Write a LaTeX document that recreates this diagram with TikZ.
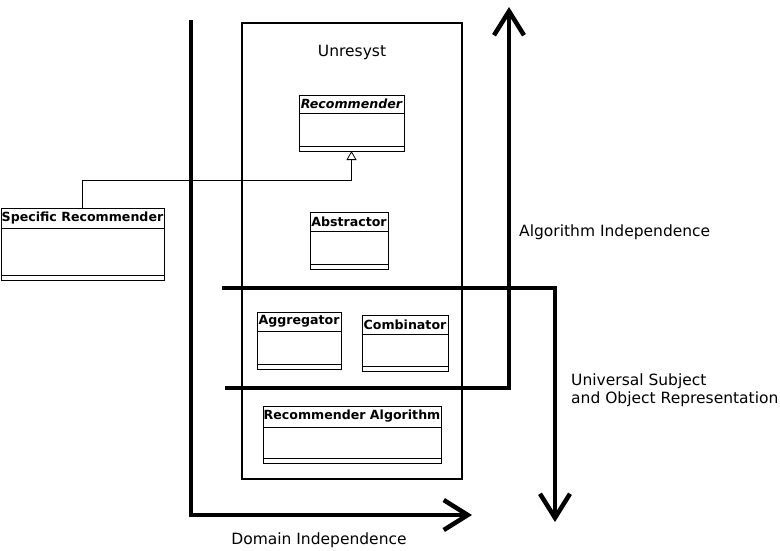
\documentclass[tikz,border=0pt]{standalone}
\usepackage{fontspec}
\setmainfont{DejaVu Sans}
\usetikzlibrary{arrows.meta,positioning}

\tikzset{
  classhead/.style={draw, line width=1pt, inner sep=0pt, outer sep=0pt, anchor=north west,
    font=\fontsize{12.6}{14}\selectfont\bfseries},
  classpart/.style={draw, line width=1pt, inner sep=0pt, outer sep=0pt, anchor=north west},
  lbl/.style={font=\fontsize{15.5}{18}\selectfont, inner sep=0pt},
  bigarrow/.style={line width=4.5pt, -{Straight Barb[length=24pt,width=30pt,line width=4.5pt]}},
  inherit/.style={line width=0.8pt, -{Triangle[open,length=9pt,width=10pt,line width=0.8pt]}}
}

% name, x, y, width, head height, body height, label
\newcommand{\umlclass}[7]{%
  \node[classhead, minimum width=#4, minimum height=#5] (#1) at (#2,#3) {#7};
  \node[classpart, minimum width=#4, minimum height=#6] (#1-body) at (#1.south west) {};
  \node[classpart, minimum width=#4, minimum height=5pt] (#1-foot) at (#1-body.south west) {};
}

\begin{document}
\begin{tikzpicture}[x=1pt,y=-1pt]
\useasboundingbox (0,0) rectangle (780,550);

% the system frame
\node[draw, line width=1.5pt, inner sep=0pt, outer sep=0pt, anchor=north west,
  minimum width=220pt, minimum height=456pt] (unresyst) at (242,23) {};
\node[lbl] (unresysttitle) at (352,52) {Unresyst};

% classes
\umlclass{rec}{299}{95}{105pt}{18pt}{33pt}{\itshape Recommender}
\umlclass{abs}{310}{212}{78pt}{19pt}{33pt}{Abstractor}
\umlclass{spec}{1}{208}{163pt}{20pt}{47pt}{Specific Recommender}
\umlclass{agg}{257}{312}{84pt}{19pt}{33pt}{Aggregator}
\umlclass{comb}{362}{315}{86pt}{19pt}{32pt}{Combinator}
\umlclass{alg}{263}{406}{178pt}{21pt}{31pt}{Recommender Algorithm}

\draw[inherit] (spec.north) -- ++(0,-28) -| (rec-foot.south);

% independence axes
\draw[bigarrow] (191,20) -- (191,515) -- (472,515);
\draw[bigarrow] (225,388) -- (509,388) -- (509,7);
\draw[bigarrow] (222,288) -- (555,288) -- (555,522);

\node[lbl, anchor=west] (algind) at (519,232) {Algorithm Independence};
\node[lbl, anchor=west, align=left] (univ) at (571,390) {Universal Subject\\and Object Representation};
\node[lbl] (domind) at (319,540) {Domain Independence};
\end{tikzpicture}
\end{document}
